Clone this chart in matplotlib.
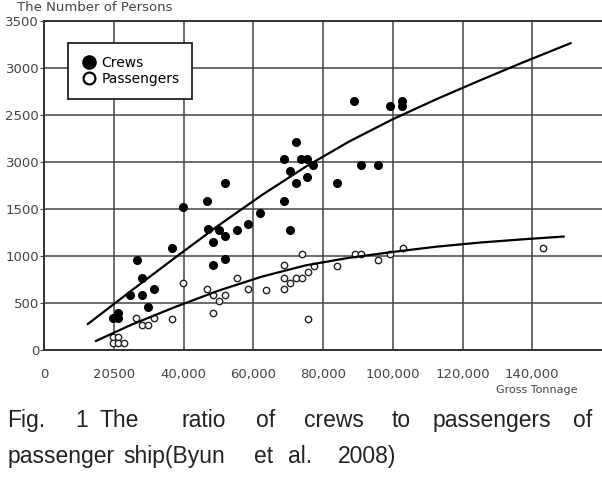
import matplotlib.pyplot as plt
from matplotlib.lines import Line2D

# values (gross tonnage vs number of persons)
crew_gt = [19800, 21100, 21200, 24700, 26600, 28200, 28200, 29900, 31600, 36600,
           39800, 46700, 46900, 48400, 48400, 50100, 51900, 51900, 51900, 55200,
           58500, 61900, 68700, 68700, 70500, 70600, 72300, 72300, 73700, 75400,
           75500, 77100, 84000, 89000, 90900, 95800, 99300, 102700, 102700]
crew_n = [340, 340, 394, 585, 958, 771, 585, 461, 646, 1085,
          1525, 1585, 1282, 1152, 899, 1280, 1780, 1213, 963, 1277,
          1341, 1461, 2032, 1585, 1908, 1277, 2210, 1780, 2032, 2032,
          1844, 1968, 1780, 2653, 1968, 1968, 2596, 2653, 2596]

pax_gt = [19700, 21200, 19700, 21300, 23000, 26400, 28000, 29800, 31600, 36600,
          39900, 46700, 48400, 48400, 50300, 51900, 55300, 58500, 63700, 68700,
          68700, 68700, 70500, 72300, 74000, 74000, 75600, 75600, 77300, 84000,
          89300, 90900, 95800, 99100, 102800, 143200]
pax_n = [142, 142, 78, 78, 78, 337, 271, 271, 337, 335,
         710, 646, 585, 397, 525, 585, 771, 646, 642, 901,
         771, 644, 710, 771, 1021, 771, 833, 335, 897, 894,
         1021, 1021, 958, 1021, 1082, 1085]

# trend curves as drawn in the figure
crew_fit_gt = [12600, 25000, 37500, 50000, 62500, 75000, 87500, 100000,
               112500, 125000, 137500, 151000]
crew_fit_n = [277, 630, 980, 1324, 1649, 1949, 2218, 2455,
              2668, 2868, 3062, 3264]
pax_fit_gt = [14900, 25000, 37500, 50000, 62500, 75000, 87500, 100000,
              112500, 125000, 137500, 149000]
pax_fit_n = [96, 268, 456, 631, 781, 900, 981, 1043,
             1099, 1143, 1178, 1207]

xticks = [0, 20000, 40000, 60000, 80000, 100000, 120000, 140000]
xlabels = ['0', '20500', '40,000', '60,000', '80,000', '100,000', '120,000', '140,000']
yticks = [0, 500, 1000, 1500, 2000, 2500, 3000, 3500]
ylabels = ['0', '500', '1000', '1500', '3000', '2500', '3000', '3500']

fig = plt.figure(figsize=(6.02, 4.78), dpi=100)
ax = fig.add_axes([44/602, 128/478, 558/602, 329/478])

ax.plot(crew_gt, crew_n, 'o', color='black', ms=5.5, zorder=3)
ax.plot(pax_gt, pax_n, 'o', mfc='white', mec='#222222', mew=1.0, ms=4.6, zorder=3)
ax.plot(crew_fit_gt, crew_fit_n, color='black', lw=1.6, zorder=4)
ax.plot(pax_fit_gt, pax_fit_n, color='black', lw=1.6, zorder=4)

ax.set_xlim(0, 160000)
ax.set_ylim(0, 3500)
ax.set_xticks(xticks, xlabels)
ax.set_yticks(yticks, ylabels)
ax.grid(True, color='#444444', lw=1.1)
ax.set_axisbelow(True)
for s in ['left', 'bottom', 'top']:
    ax.spines[s].set_color('#333333')
    ax.spines[s].set_linewidth(1.4)
ax.spines['right'].set_visible(False)
ax.tick_params(axis='y', length=3, pad=0.5, labelsize=9.5, labelcolor='#444444', color='#444444')
ax.tick_params(axis='x', length=0, pad=13, labelsize=9.5, labelcolor='#444444')

handles = [Line2D([], [], ls='', marker='o', color='black', ms=9.5),
           Line2D([], [], ls='', marker='o', mfc='white', mec='black', mew=1.6, ms=8.5)]
leg = ax.legend(handles, ['Crews', 'Passengers'], loc='upper left',
                bbox_to_anchor=(0.043, 0.933), fancybox=False, framealpha=1,
                edgecolor='#222222', fontsize=10, handlelength=1.2,
                handletextpad=0.3, labelspacing=0.2, borderpad=0.9,
                borderaxespad=0)
leg.get_frame().set_linewidth(1.3)

fig.text(17/602, 1 - 11/478, 'The Number of Persons', fontsize=9.5, color='#444444',
         va='baseline', ha='left')
fig.text(537/602, 1 - 390/478, 'Gross Tonnage', fontsize=8, color='#444444',
         va='center', ha='center')

# caption, justified word by word like the print layout
line1 = ['Fig.', '1', 'The', 'ratio', 'of', 'crews', 'to', 'passengers', 'of']
line1_x = [7, 75, 99, 181, 256, 304, 392, 433, 573]
line2 = ['passenger', 'ship(Byun', 'et', 'al.', '2008)']
line2_x = [8, 123, 254, 288, 338]
for w, x in zip(line1, line1_x):
    fig.text(x/602, 1 - 427/478, w, fontsize=16.5, family='Liberation Sans',
             color='#222222', va='baseline', ha='left')
for w, x in zip(line2, line2_x):
    fig.text(x/602, 1 - 463/478, w, fontsize=16.5, family='Liberation Sans',
             color='#222222', va='baseline', ha='left')

fig.savefig('out.png', dpi=100)
